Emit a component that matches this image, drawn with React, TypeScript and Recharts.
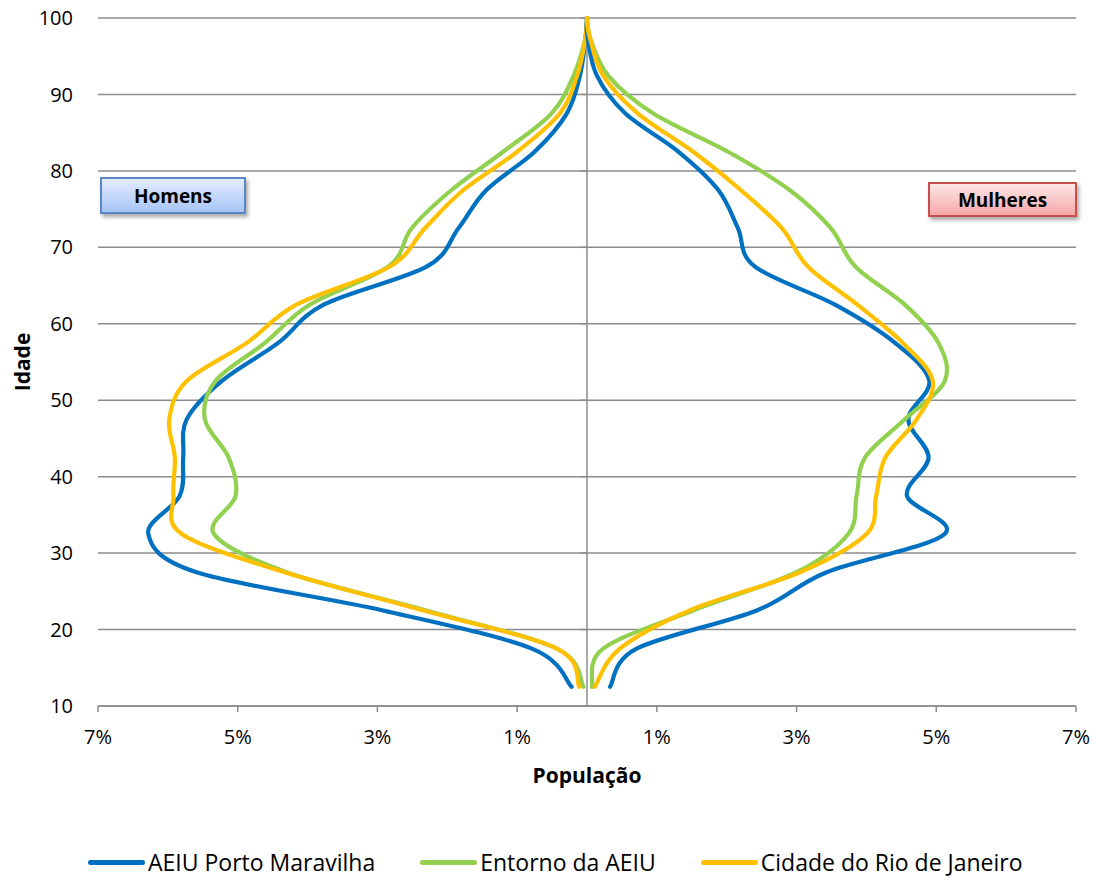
import React from 'react';
import { LineChart, Line, XAxis, YAxis, CartesianGrid, ReferenceLine, Label } from 'recharts';

// Age group midpoints (years)
const AGES = [12.5, 17.5, 22.5, 27.5, 32.5, 37.5, 42.5, 47.5, 52.5, 57.5, 62.5, 67.5, 72.5, 77.5, 82.5, 87.5, 92.5, 97.5, 100];

// Share of population (%) – men (drawn to the left)
const AEIU_HOMENS = [0.22, 0.79, 2.92, 5.59, 6.28, 5.83, 5.78, 5.73, 5.23, 4.42, 3.77, 2.29, 1.84, 1.44, 0.75, 0.29, 0.10, 0.02, 0];
const ENTORNO_HOMENS = [0.05, 0.43, 2.30, 4.30, 5.34, 5.03, 5.13, 5.47, 5.32, 4.61, 3.97, 2.84, 2.51, 1.94, 1.20, 0.51, 0.19, 0.02, 0];
const RIO_HOMENS = [0.11, 0.43, 2.34, 4.33, 5.80, 5.92, 5.90, 5.98, 5.73, 4.87, 4.16, 2.82, 2.32, 1.77, 1.00, 0.39, 0.14, 0.02, 0];

// Share of population (%) – women (drawn to the right)
const AEIU_MULHERES = [0.33, 0.71, 2.43, 3.43, 5.12, 4.58, 4.89, 4.60, 4.90, 4.41, 3.55, 2.40, 2.16, 1.88, 1.31, 0.55, 0.14, 0.01, 0];
const ENTORNO_MULHERES = [0.07, 0.23, 1.52, 3.00, 3.74, 3.86, 3.98, 4.55, 5.12, 5.03, 4.55, 3.84, 3.49, 2.90, 2.02, 0.95, 0.30, 0.04, 0];
const RIO_MULHERES = [0.11, 0.47, 1.47, 3.05, 4.00, 4.14, 4.27, 4.72, 4.95, 4.52, 3.87, 3.16, 2.79, 2.20, 1.52, 0.73, 0.23, 0.04, 0];

const SERIES_NAMES = ['AEIU Porto Maravilha', 'Entorno da AEIU', 'Cidade do Rio de Janeiro'];
const SERIES_KEYS = ['aeiu', 'entorno', 'rio'];
const SERIES_COLORS = ['#0070C0', '#92D050', '#FFC000'];
const MEN = [AEIU_HOMENS, ENTORNO_HOMENS, RIO_HOMENS];
const WOMEN = [AEIU_MULHERES, ENTORNO_MULHERES, RIO_MULHERES];

const Y_TICKS = [10, 20, 30, 40, 50, 60, 70, 80, 90, 100];
const X_TICKS = [-7, -5, -3, -1, 1, 3, 5, 7];

const data = AGES.map((age, i) => {
  const row: Record<string, number> = { age };
  SERIES_KEYS.forEach((k, s) => {
    row[k + 'H'] = -MEN[s][i];
    row[k + 'M'] = WOMEN[s][i];
  });
  return row;
});

// Excel-like smoothing (Catmull-Rom expressed as cubic Beziers)
function excelSmooth(context: any) {
  let pts: number[][] = [];
  return {
    areaStart() {},
    areaEnd() {},
    lineStart() {
      pts = [];
    },
    point(x: number, y: number) {
      pts.push([+x, +y]);
    },
    lineEnd() {
      const n = pts.length;
      if (!n) return;
      context.moveTo(pts[0][0], pts[0][1]);
      for (let i = 0; i < n - 1; i++) {
        const p0 = pts[i - 1] || pts[i];
        const p1 = pts[i];
        const p2 = pts[i + 1];
        const p3 = pts[i + 2] || pts[i + 1];
        context.bezierCurveTo(
          p1[0] + (p2[0] - p0[0]) / 6,
          p1[1] + (p2[1] - p0[1]) / 6,
          p2[0] - (p3[0] - p1[0]) / 6,
          p2[1] - (p3[1] - p1[1]) / 6,
          p2[0],
          p2[1]
        );
      }
    },
  };
}

const FONT = '"Open Sans", "DejaVu Sans", sans-serif';
const GRID = '#8c8c8c';

export default function App() {
  return (
    <div style={{ position: 'absolute', left: 0, top: 0, width: 1093, height: 879, background: '#fff', fontFamily: FONT, overflow: 'hidden' }}>
      <LineChart
        width={1093}
        height={879}
        data={data}
        layout="vertical"
        margin={{ top: 18, right: 17, bottom: 113, left: 0 }}
        style={{ fontFamily: FONT }}
      >
        <CartesianGrid vertical={false} stroke={GRID} strokeWidth={1.5} />
        <XAxis
          type="number"
          domain={[-7, 7]}
          ticks={X_TICKS}
          interval={0}
          height={60}
          stroke={GRID}
          strokeWidth={1.5}
          tickSize={6}
          tickMargin={18}
          tick={{ fill: '#000', fontSize: 20, fontFamily: FONT }}
          tickFormatter={(v: number) => Math.abs(v) + '%'}
        >
          <Label value="População" position="bottom" offset={2} style={{ fontSize: 21, fontWeight: 700, fill: '#000', fontFamily: FONT }} />
        </XAxis>
        <YAxis
          type="number"
          dataKey="age"
          domain={[10, 100]}
          ticks={Y_TICKS}
          interval={0}
          reversed
          width={98}
          axisLine={false}
          tickLine={false}
          tickSize={0}
          tickMargin={25}
          tick={{ fill: '#000', fontSize: 20, fontFamily: FONT }}
        >
          <Label value="Idade" angle={-90} position="insideLeft" offset={23} style={{ fontSize: 21, fontWeight: 700, fill: '#000', fontFamily: FONT, textAnchor: 'middle' }} />
        </YAxis>
        <ReferenceLine x={0} stroke={GRID} strokeWidth={1.5} />
        {Y_TICKS.map((t) => (
          <ReferenceLine key={'tk' + t} segment={[{ x: -0.09, y: t }, { x: 0, y: t }]} stroke={GRID} strokeWidth={1.5} />
        ))}
        {SERIES_KEYS.map((k, s) => (
          <Line
            key={k + 'H'}
            dataKey={k + 'H'}
            type={excelSmooth as any}
            stroke={SERIES_COLORS[s]}
            strokeWidth={4.2}
            dot={false}
            activeDot={false}
            isAnimationActive={false}
            strokeLinecap="round"
            strokeLinejoin="round"
          />
        ))}
        {SERIES_KEYS.map((k, s) => (
          <Line
            key={k + 'M'}
            dataKey={k + 'M'}
            type={excelSmooth as any}
            stroke={SERIES_COLORS[s]}
            strokeWidth={4.2}
            dot={false}
            activeDot={false}
            isAnimationActive={false}
            strokeLinecap="round"
            strokeLinejoin="round"
          />
        ))}
      </LineChart>

      <div
        style={{
          position: 'absolute', left: 100, top: 177, width: 146, height: 37, boxSizing: 'border-box',
          border: '2px solid #5a86c4', background: 'linear-gradient(#e3ecfd, #a8c5f6)',
          boxShadow: '2px 3px 4px rgba(0,0,0,0.35)', display: 'flex', alignItems: 'center', justifyContent: 'center',
          fontWeight: 700, fontSize: 19, color: '#000',
        }}
      >
        Homens
      </div>
      <div
        style={{
          position: 'absolute', left: 928, top: 182, width: 149, height: 35, boxSizing: 'border-box',
          border: '2px solid #c4504d', background: 'linear-gradient(#fde6e6, #f6a7a7)',
          boxShadow: '2px 3px 4px rgba(0,0,0,0.35)', display: 'flex', alignItems: 'center', justifyContent: 'center',
          fontWeight: 700, fontSize: 19, color: '#000',
        }}
      >
        Mulheres
      </div>

      <div style={{ position: 'absolute', left: 88, top: 850, display: 'flex', alignItems: 'center', height: 24 }}>
        {SERIES_NAMES.map((n, s) => (
          <div key={n} style={{ display: 'flex', alignItems: 'center', marginRight: 45, height: 24 }}>
            <div style={{ width: 57, height: 5, borderRadius: 3, background: SERIES_COLORS[s], marginRight: 3 }} />
            <span style={{ fontSize: 23, color: '#000', whiteSpace: 'nowrap', lineHeight: '24px' }}>{n}</span>
          </div>
        ))}
      </div>
    </div>
  );
}
